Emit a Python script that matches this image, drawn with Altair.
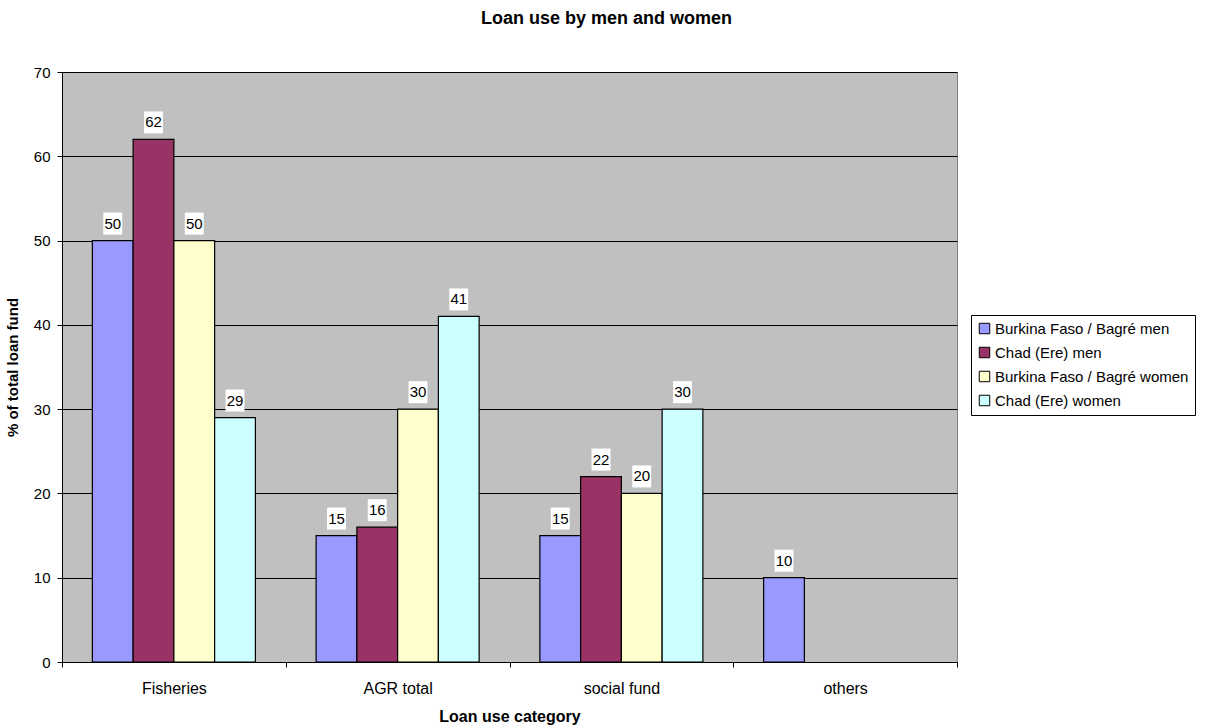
import altair as alt
import pandas as pd

categories = ["Fisheries", "AGR total", "social fund", "others"]
series = ["Burkina Faso / Bagré men", "Chad (Ere) men", "Burkina Faso / Bagré women", "Chad (Ere) women"]
colors = ["#9999FF", "#993366", "#FFFFCC", "#CCFFFF"]

bf_men = [50, 15, 15, 10]
chad_men = [62, 16, 22, None]
bf_women = [50, 30, 20, None]
chad_women = [29, 41, 30, None]

rows = []
for s, vals in zip(series, [bf_men, chad_men, bf_women, chad_women]):
    for c, v in zip(categories, vals):
        if v is not None:
            rows.append({"category": c, "series": s, "value": v})
df = pd.DataFrame(rows)

FONT = "Liberation Sans"

xscale = alt.Scale(paddingInner=0, paddingOuter=0)
x = alt.X("category:N", sort=categories, scale=xscale,
          axis=alt.Axis(title="Loan use category", labelAngle=0, tickBand="extent",
                        labelPadding=13, titlePadding=12, domainColor="black",
                        tickColor="black", labelColor="black", titleColor="black",
                        labelFontSize=16, titleFontSize=16, titleFontWeight="bold",
                        labelFont=FONT, titleFont=FONT, tickSize=5, grid=False))
xoff = alt.XOffset("series:N", sort=series,
                   scale=alt.Scale(paddingInner=0, paddingOuter=0.745))
y = alt.Y("value:Q", scale=alt.Scale(domain=[0, 70], nice=False),
          axis=alt.Axis(title="% of total loan fund", values=list(range(0, 71, 10)),
                        domainColor="black", tickColor="black", labelColor="black",
                        titleColor="black", labelFontSize=15, titleFontSize=15,
                        titleFontWeight="bold", labelFont=FONT, titleFont=FONT,
                        gridColor="black", gridWidth=1, tickSize=5, labelPadding=7,
                        titlePadding=13))

color = alt.Color("series:N", sort=series,
                  scale=alt.Scale(domain=series, range=colors),
                  legend=alt.Legend(title=None, orient="none", legendX=909, legendY=243,
                                    symbolType="square", symbolStrokeColor="black",
                                    symbolStrokeWidth=1, symbolSize=110,
                                    labelFontSize=15, labelFont=FONT, labelColor="black",
                                    strokeColor="black", padding=6, rowPadding=8,
                                    labelOffset=3, labelLimit=300, symbolOpacity=1,
                                    fillColor="white"))

base = alt.Chart(df)

bars = base.mark_bar(stroke="black", strokeWidth=1.2).encode(
    x=x, xOffset=xoff, y=y, color=color)

boxes = base.mark_point(shape="M-0.86,-1L0.86,-1L0.86,1L-0.86,1Z", size=484,
                        filled=True, fill="white", opacity=1, yOffset=-17).encode(
    x=alt.X("category:N", sort=categories, scale=xscale), xOffset=xoff, y="value:Q")

labels = base.mark_text(fontSize=15, font=FONT, color="black", yOffset=-17,
                        baseline="middle").encode(
    x=alt.X("category:N", sort=categories, scale=xscale), xOffset=xoff, y="value:Q",
    text="value:Q")

chart = alt.layer(bars, boxes, labels).properties(
    width=895, height=590,
    title=alt.TitleParams("Loan use by men and women", fontSize=18, font=FONT,
                          fontWeight="bold", color="black", dx=97, offset=37),
    autosize=alt.AutoSizeParams(type="none"),
    padding={"left": 62, "top": 72, "right": 261, "bottom": 66},
    background="white",
).configure_view(fill="#C0C0C0", stroke="#808080", strokeWidth=1)

chart.save("out.html", embed_options={"renderer": "svg", "actions": False})
